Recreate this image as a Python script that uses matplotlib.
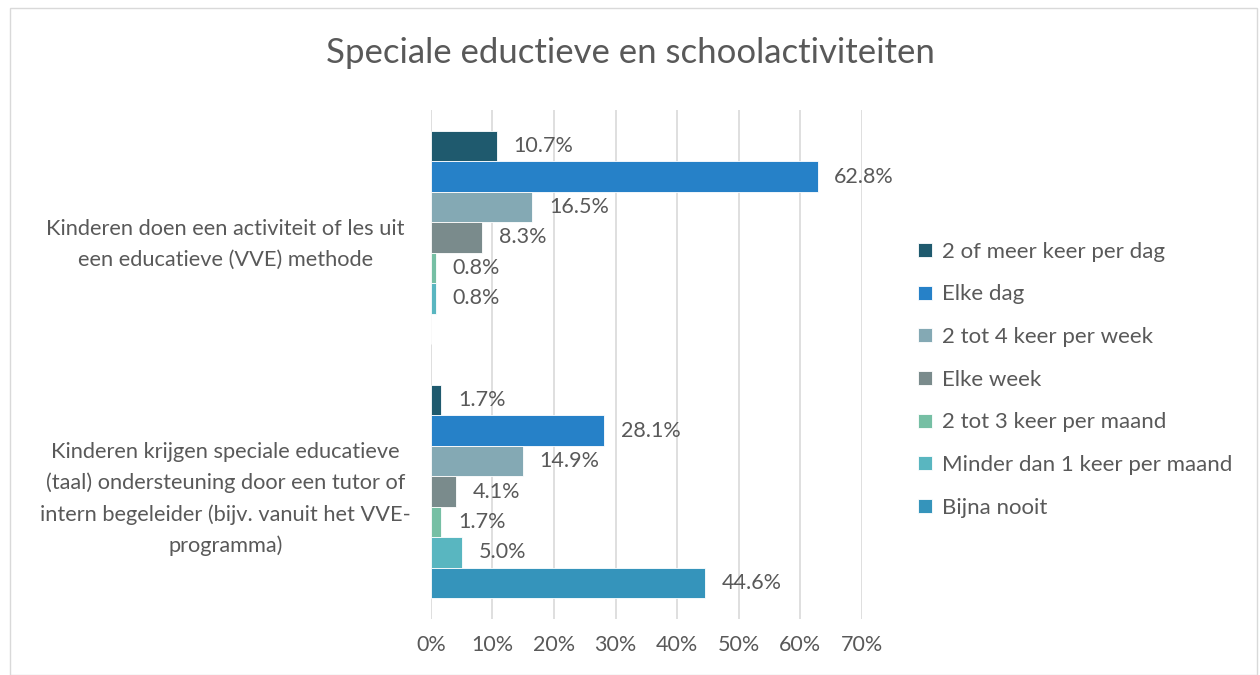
import numpy as np
import matplotlib.pyplot as plt
from matplotlib.patches import Rectangle

plt.rcParams['font.family'] = ['Lato', 'DejaVu Sans']

categories = ['Kinderen doen een activiteit of les uit\neen educatieve (VVE) methode',
              'Kinderen krijgen speciale educatieve\n(taal) ondersteuning door een tutor of\nintern begeleider (bijv. vanuit het VVE-\nprogramma)']
series = ['2 of meer keer per dag', 'Elke dag', '2 tot 4 keer per week', 'Elke week',
          '2 tot 3 keer per maand', 'Minder dan 1 keer per maand', 'Bijna nooit']
values = [
    [10.7, 1.7],
    [62.8, 28.1],
    [16.5, 14.9],
    [8.3, 4.1],
    [0.8, 1.7],
    [0.8, 5.0],
    [np.nan, 44.6],
]
colors = ['#1F5A6E', '#2681C8', '#84A9B4', '#7A8B8C', '#76BFA4', '#59B6C0', '#3594BB']
xticks = [0, 10, 20, 30, 40, 50, 60, 70]

txt = '#595959'
fs = 16
fig = plt.figure(figsize=(12.6, 6.75), dpi=100)
ax = fig.add_axes([0.342, 0.0837, 0.342, 0.7526])

h = 0.12
y = np.arange(len(categories))
for i, s in enumerate(series):
    pos = y + (i - 3) * h
    vals = np.array(values[i], dtype=float)
    ax.barh(pos, np.nan_to_num(vals), height=h, color=colors[i], label=s,
            edgecolor='white', linewidth=0.6)
    for p, v in zip(pos, vals):
        if np.isnan(v):
            continue
        ax.annotate(f'{v:.1f}%', (v, p), xytext=(12, 0), textcoords='offset points',
                    va='center', ha='left', fontsize=15.5, color=txt)

ax.set_ylim(1.5, -0.5)
ax.set_xlim(0, 70)
ax.set_xticks(xticks)
ax.set_xticklabels([f'{t}%' for t in xticks], fontsize=15.5, color=txt)
ax.tick_params(axis='x', length=0, pad=12)
ax.set_yticks(y)
ax.set_yticklabels(categories, fontsize=15.7, color=txt, ha='center', linespacing=1.65)
ax.tick_params(axis='y', length=0, pad=148)
ax.grid(axis='x', color='#D9D9D9', linewidth=1.2)
ax.set_axisbelow(True)
for sp in ax.spines.values():
    sp.set_visible(False)

fig.text(0.5, 0.922, 'Speciale eductieve en schoolactiviteiten', ha='center', va='center',
         fontsize=25, color=txt)

leg = ax.legend(loc='center left', bbox_to_anchor=(1.085, 0.47), frameon=False,
                fontsize=fs, labelspacing=1.02, handlelength=0.6, handleheight=0.6,
                handletextpad=0.45)
for t in leg.get_texts():
    t.set_color(txt)

fig.patches.append(Rectangle((0.008, 0.0), 0.99, 0.988, transform=fig.transFigure,
                             fill=False, edgecolor='#D9D9D9', linewidth=1))

fig.savefig('out.png', dpi=100)
